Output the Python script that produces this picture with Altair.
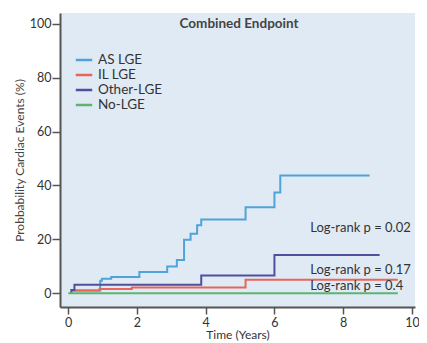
import altair as alt
import pandas as pd

# ---- data ----
series_names = ["AS LGE", "IL LGE", "Other-LGE", "No-LGE"]
series_colors = ["#4ea3d8", "#e8655a", "#4f4f9c", "#5cb56f"]

as_t = [0.09, 0.93, 0.98, 1.25, 2.07, 2.88, 3.16, 3.37, 3.56, 3.75, 3.87, 5.16, 6.0, 6.17, 8.77]
as_v = [1.0, 4.6, 5.4, 6.0, 7.9, 9.9, 12.3, 19.9, 22.1, 25.2, 27.4, 31.9, 37.4, 43.7, 43.7]

il_t = [0.09, 0.91, 1.85, 5.16, 9.59]
il_v = [1.0, 1.6, 2.1, 5.0, 5.0]

ot_t = [0.09, 0.09, 0.18, 3.87, 6.0, 9.06]
ot_v = [0.0, 1.2, 3.2, 6.6, 14.2, 14.2]

no_t = [0.0, 9.59]
no_v = [0.0, 0.0]

notes = ["Log-rank p = 0.02", "Log-rank p = 0.17", "Log-rank p = 0.4"]
note_x = [7.04, 7.04, 7.04]
note_y = [24.2, 8.7, 2.6]

title_text = ["Combined Endpoint"]
title_x = [4.97]
title_y = [100.0]

x_ticks = [0, 2, 4, 6, 8, 10]
y_ticks = [0, 20, 40, 60, 80, 100]

# ---- build tables ----
rows = []
for name, ts, vs in zip(series_names, [as_t, il_t, ot_t, no_t], [as_v, il_v, ot_v, no_v]):
    for i, (t, v) in enumerate(zip(ts, vs)):
        rows.append({"series": name, "t": t, "p": v, "i": i})
df = pd.DataFrame(rows)
notes_df = pd.DataFrame({"label": notes, "x": note_x, "y": note_y})
title_df = pd.DataFrame({"label": title_text, "x": title_x, "y": title_y})

x_scale = alt.Scale(domain=[-0.24, 10.09], nice=False, zero=False)
y_scale = alt.Scale(domain=[-5.1, 104], nice=False, zero=False)

FONT = "Lato"

lines = alt.Chart(df).mark_line(interpolate="step-after", strokeWidth=2).encode(
    x=alt.X("t:Q", scale=x_scale,
            axis=alt.Axis(values=x_ticks, title="Time (Years)", grid=False,
                          tickSize=7, tickWidth=1.5, tickColor="#555",
                          domainColor="#555", domainWidth=2,
                          labelFontSize=12.5, labelColor="#333", labelFont=FONT,
                          labelPadding=2, titleFont=FONT, titleFontSize=12,
                          titleFontWeight="normal", titleColor="#333", titlePadding=1)),
    y=alt.Y("p:Q", scale=y_scale,
            axis=alt.Axis(values=y_ticks, title="Probbability Cardiac Events (%)", grid=False,
                          tickSize=8, tickWidth=1.5, tickColor="#555",
                          domainColor="#555", domainWidth=2,
                          labelFontSize=12.5, labelColor="#333", labelFont=FONT,
                          labelPadding=1, titleFont=FONT, titleFontSize=12,
                          titleFontWeight="normal", titleColor="#444", titlePadding=3)),
    color=alt.Color("series:N",
                    scale=alt.Scale(domain=series_names, range=series_colors),
                    legend=alt.Legend(title=None, orient="none", legendX=16, legendY=39,
                                      symbolType="M-1.3,0H1.3", symbolStrokeWidth=2.5,
                                      symbolSize=160, labelFont=FONT, labelFontSize=13.5,
                                      labelColor="#333", rowPadding=0, labelOffset=6)),
    order=alt.Order("i:Q"),
    detail="series:N",
)

note_layer = alt.Chart(notes_df).mark_text(align="left", baseline="middle", font=FONT,
                                           fontSize=13, color="#333").encode(
    x=alt.X("x:Q", scale=x_scale), y=alt.Y("y:Q", scale=y_scale), text="label:N")

title_layer = alt.Chart(title_df).mark_text(align="center", baseline="middle", font=FONT,
                                            fontSize=13.5, fontWeight="bold", color="#444").encode(
    x=alt.X("x:Q", scale=x_scale), y=alt.Y("y:Q", scale=y_scale), text="label:N")

chart = alt.layer(lines, note_layer, title_layer).properties(
    width=411, height=333, background="white",
    padding={"left": 5, "top": 5, "right": 0, "bottom": 0},
    autosize=alt.AutoSizeParams(type="fit", contains="padding"),
).configure_view(fill="#e0eaf5", stroke=None)

chart.save("out.html", embed_options={"renderer": "svg", "actions": False})
